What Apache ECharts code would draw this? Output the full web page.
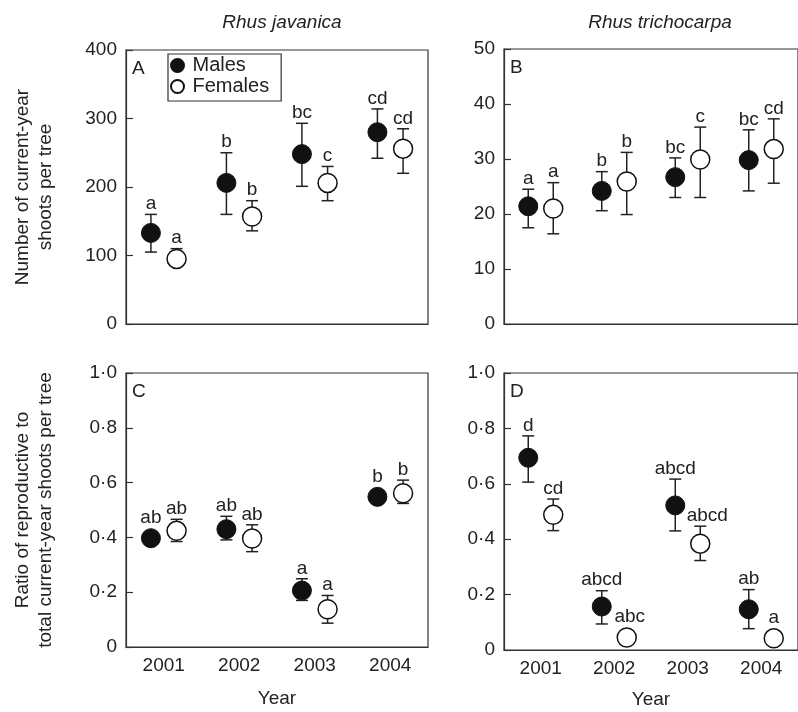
<!DOCTYPE html>
<html>
<head>
<meta charset="utf-8">
<script src="https://cdn.jsdelivr.net/npm/echarts@6/dist/echarts.min.js"></script>
<style>
html, body { margin: 0; padding: 0; background: #fff; }
#chart { width: 798px; height: 712px; }
</style>
</head>
<body>
<div id="chart"></div>
<script>
var years = ['2001', '2002', '2003', '2004'];

// A: Rhus javanica, number of current-year shoots
var aMaleMean = [133, 206, 248, 280];
var aMaleLo = [105, 160, 201, 242];
var aMaleHi = [160, 250, 293, 314];
var aFemMean = [95, 157, 206, 256];
var aFemLo = [88, 136, 180, 220];
var aFemHi = [110, 180, 230, 285];
var aMaleTag = ['a', 'b', 'bc', 'cd'];
var aFemTag = ['a', 'b', 'c', 'cd'];

// B: Rhus trichocarpa, number of current-year shoots
var bMaleMean = [21.4, 24.2, 26.7, 29.8];
var bMaleLo = [17.5, 20.6, 23.0, 24.2];
var bMaleHi = [24.5, 27.7, 30.2, 35.3];
var bFemMean = [21.0, 25.9, 29.9, 31.8];
var bFemLo = [16.4, 19.9, 23.0, 25.6];
var bFemHi = [25.7, 31.2, 35.8, 37.3];
var bMaleTag = ['a', 'b', 'bc', 'bc'];
var bFemTag = ['a', 'b', 'c', 'cd'];

// C: Rhus javanica, reproductive ratio
var cMaleMean = [0.397, 0.43, 0.206, 0.548];
var cMaleLo = [0.385, 0.391, 0.17, 0.535];
var cMaleHi = [0.41, 0.477, 0.249, 0.56];
var cFemMean = [0.424, 0.396, 0.138, 0.561];
var cFemLo = [0.385, 0.348, 0.087, 0.524];
var cFemHi = [0.466, 0.446, 0.188, 0.609];
var cMaleTag = ['ab', 'ab', 'a', 'b'];
var cFemTag = ['ab', 'ab', 'a', 'b'];

// D: Rhus trichocarpa, reproductive ratio
var dMaleMean = [0.694, 0.157, 0.522, 0.147];
var dMaleLo = [0.606, 0.094, 0.43, 0.077];
var dMaleHi = [0.773, 0.214, 0.617, 0.218];
var dFemMean = [0.488, 0.045, 0.384, 0.042];
var dFemLo = [0.431, 0.04, 0.323, 0.037];
var dFemHi = [0.545, 0.05, 0.447, 0.047];
var dMaleTag = ['d', 'abcd', 'abcd', 'ab'];
var dFemTag = ['cd', 'abc', 'abcd', 'a'];

(function() {
	var FONT = "'Liberation Sans', Arial, Helvetica, sans-serif";
	var INK = '#222';
	var chart = echarts.init(document.getElementById('chart'));

	function ratioFmt(v) {
		return v === 0 ? '0' : v.toFixed(1).replace('.', '\u00b7');
	}

	var panels = [
		{ grid: { left: 126, top: 50, width: 302, height: 274 }, min: 0, max: 400, interval: 100,
		  male: [aMaleMean, aMaleLo, aMaleHi, aMaleTag], fem: [aFemMean, aFemLo, aFemHi, aFemTag],
		  bottom: false, yName: 'Number of current-year\nshoots per tree', letter: 'A', fmt: null },
		{ grid: { left: 504, top: 49, width: 302, height: 275 }, min: 0, max: 50, interval: 10,
		  male: [bMaleMean, bMaleLo, bMaleHi, bMaleTag], fem: [bFemMean, bFemLo, bFemHi, bFemTag],
		  bottom: false, yName: '', letter: 'B', fmt: null },
		{ grid: { left: 126, top: 373, width: 302, height: 274 }, min: 0, max: 1, interval: 0.2,
		  male: [cMaleMean, cMaleLo, cMaleHi, cMaleTag], fem: [cFemMean, cFemLo, cFemHi, cFemTag],
		  bottom: true, yName: 'Ratio of reproductive to\ntotal current-year shoots per tree', letter: 'C', fmt: ratioFmt, nameGap: 42 },
		{ grid: { left: 504, top: 373, width: 302, height: 277 }, min: 0, max: 1, interval: 0.2,
		  male: [dMaleMean, dMaleLo, dMaleHi, dMaleTag], fem: [dFemMean, dFemLo, dFemHi, dFemTag],
		  bottom: true, yName: '', letter: 'D', fmt: ratioFmt, nameGap: 40 }
	];

	// small nudges of letter labels (panel-sex-index -> px)
	var tagShift = { '3-f-1': 3, '3-f-2': 7 };
	var OFF = 0.17;

	var grids = [], xAxes = [], yAxes = [], series = [], graphics = [];

	panels.forEach(function(p, i) {
		grids.push({ left: p.grid.left, top: p.grid.top, width: p.grid.width, height: p.grid.height,
			show: true, borderColor: '#333', borderWidth: 1.2, backgroundColor: 'transparent' });

		xAxes.push({
			gridIndex: i, type: 'category', data: years,
			axisLine: { lineStyle: { color: '#333', width: 1.2 } },
			axisTick: { inside: true, length: 7, lineStyle: { color: '#333', width: 1.2 } },
			axisLabel: { show: p.bottom, color: INK, fontSize: 19, fontFamily: FONT, margin: 9 },
			name: p.bottom ? 'Year' : '', nameLocation: 'middle', nameGap: p.nameGap || 30,
			nameTextStyle: { color: INK, fontSize: 19, fontFamily: FONT },
			splitLine: { show: false }
		});
		xAxes.push({ gridIndex: i, type: 'value', min: 0, max: 4, show: false });

		yAxes.push({
			gridIndex: i, type: 'value', min: p.min, max: p.max, interval: p.interval,
			axisLine: { show: true, lineStyle: { color: '#333', width: 1.2 } },
			axisTick: { show: true, inside: true, length: 7, lineStyle: { color: '#333', width: 1.2 } },
			axisLabel: { color: INK, fontSize: 19, fontFamily: FONT, margin: 9,
				formatter: p.fmt || function(v) { return String(v); } },
			splitLine: { show: false },
			name: p.yName, nameLocation: 'middle', nameGap: 69,
			nameTextStyle: { color: INK, fontSize: 19, fontFamily: FONT, lineHeight: 23 }
		});

		var xi = 2 * i + 1;
		var errData = [], mData = [], fData = [], tagData = [], tagText = [], tagKey = [];
		years.forEach(function(y, j) {
			var xm = j + 0.5 - OFF, xf = j + 0.5 + OFF;
			errData.push([xm, p.male[1][j], p.male[2][j]]);
			errData.push([xf, p.fem[1][j], p.fem[2][j]]);
			mData.push([xm, p.male[0][j]]);
			fData.push([xf, p.fem[0][j]]);
			tagData.push([xm, p.male[0][j], p.male[2][j]]);
			tagText.push(p.male[3][j]);
			tagKey.push(i + '-m-' + j);
			tagData.push([xf, p.fem[0][j], p.fem[2][j]]);
			tagText.push(p.fem[3][j]);
			tagKey.push(i + '-f-' + j);
		});

		// error bars with caps
		series.push({
			type: 'custom', xAxisIndex: xi, yAxisIndex: i, z: 1, silent: true,
			encode: { x: 0, y: [1, 2] },
			data: errData,
			renderItem: function(params, api) {
				var x = api.value(0);
				var top = api.coord([x, api.value(2)]);
				var bot = api.coord([x, api.value(1)]);
				var w = 6;
				var st = { stroke: '#222', lineWidth: 1.5 };
				return { type: 'group', children: [
					{ type: 'line', shape: { x1: top[0], y1: top[1], x2: bot[0], y2: bot[1] }, style: st },
					{ type: 'line', shape: { x1: top[0] - w, y1: top[1], x2: top[0] + w, y2: top[1] }, style: st },
					{ type: 'line', shape: { x1: bot[0] - w, y1: bot[1], x2: bot[0] + w, y2: bot[1] }, style: st }
				] };
			}
		});
		series.push({
			name: 'Males', type: 'scatter', xAxisIndex: xi, yAxisIndex: i, z: 2,
			symbol: 'circle', symbolSize: 19, data: mData,
			itemStyle: { color: '#111', borderColor: '#111', borderWidth: 1, opacity: 1 }
		});
		series.push({
			name: 'Females', type: 'scatter', xAxisIndex: xi, yAxisIndex: i, z: 2,
			symbol: 'circle', symbolSize: 19, data: fData,
			itemStyle: { color: '#fff', borderColor: '#111', borderWidth: 1.5, opacity: 1 }
		});
		// significance letters
		series.push({
			type: 'custom', xAxisIndex: xi, yAxisIndex: i, z: 3, silent: true,
			encode: { x: 0, y: [1, 2] },
			data: tagData,
			renderItem: function(params, api) {
				var x = api.value(0);
				var c = api.coord([x, api.value(1)]);
				var h = api.coord([x, api.value(2)]);
				var yTop = Math.min(h[1], c[1] - 10) - 1;
				var dx = tagShift[tagKey[params.dataIndex]] || 0;
				return { type: 'text', x: c[0] + dx, y: yTop,
					style: { text: tagText[params.dataIndex], fill: INK, font: '19px ' + FONT,
						align: 'center', verticalAlign: 'bottom' } };
			}
		});

		graphics.push({ type: 'text', left: p.grid.left + 6, top: p.grid.top + 9,
			style: { text: p.letter, fill: INK, font: '19px ' + FONT } });
	});

	var option = {
		backgroundColor: '#fff',
		animation: false,
		title: [
			{ text: 'Rhus javanica', left: 277, top: 8, textAlign: 'center',
			  textStyle: { fontStyle: 'italic', fontWeight: 'normal', fontSize: 19, color: INK, fontFamily: FONT } },
			{ text: 'Rhus trichocarpa', left: 655, top: 8, textAlign: 'center',
			  textStyle: { fontStyle: 'italic', fontWeight: 'normal', fontSize: 19, color: INK, fontFamily: FONT } }
		],
		legend: {
			data: ['Males', 'Females'], orient: 'vertical', left: 168, top: 54,
			padding: [1, 12, 4, 2], itemGap: 0, itemWidth: 20, itemHeight: 13,
			borderColor: '#333', borderWidth: 1.2, icon: 'circle',
			selectedMode: false,
			textStyle: { fontSize: 20, color: INK, fontFamily: FONT, lineHeight: 21 }
		},
		grid: grids,
		xAxis: xAxes,
		yAxis: yAxes,
		series: series,
		graphic: graphics
	};

	chart.setOption(option);
})();
</script>
</body>
</html>
